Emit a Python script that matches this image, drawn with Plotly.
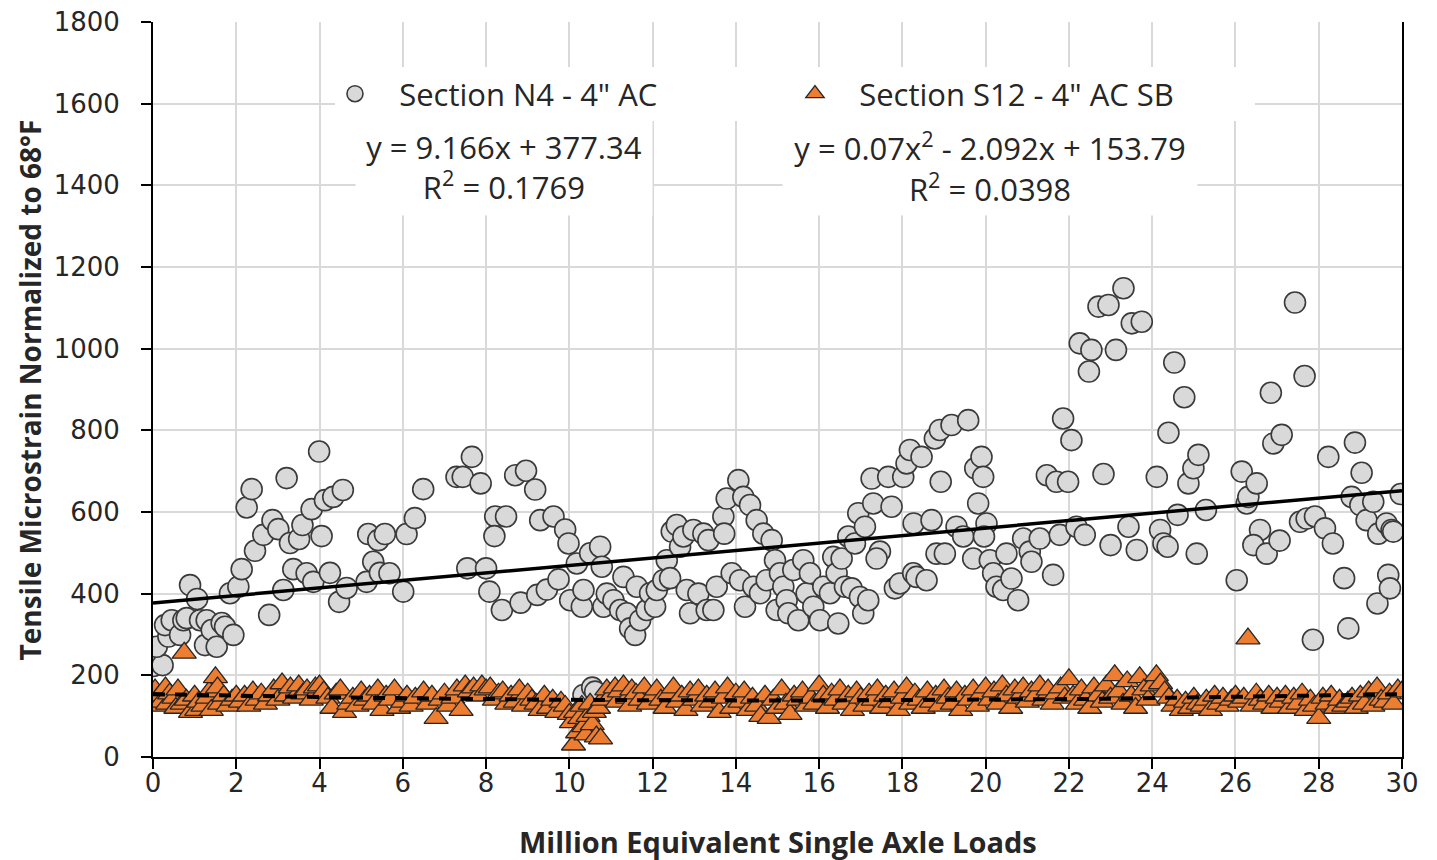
import numpy as np
import plotly.graph_objects as go

# ---------------- data ----------------
n4_x = [0.01, 0.23, 0.09, 0.37, 0.29, 0.45, 0.65, 0.73, 0.81, 0.89,
        1.06, 1.13, 1.29, 1.25, 1.41, 1.53, 1.65, 1.73, 1.93, 1.85,
        2.05, 2.13, 2.25, 2.37, 2.45, 2.65, 2.79, 2.87, 3.01, 3.21,
        3.13, 3.29, 3.37, 3.51, 3.59, 3.69, 3.81, 3.85, 3.99, 4.05,
        4.13, 4.25, 4.33, 4.47, 4.56, 4.65, 5.13, 5.17, 5.29, 5.41,
        5.45, 5.57, 5.68, 6.01, 6.09, 6.29, 6.49, 7.29,
        7.66, 7.44, 7.87, 7.55, 8.0, 8.08, 8.22, 8.48, 8.2, 8.38,
        8.70, 8.96, 9.18, 8.83, 9.23, 9.30, 9.62, 9.46, 9.74, 9.90,
        9.98, 10.02, 10.18, 10.30, 10.34, 10.50, 10.74, 10.78, 10.82, 10.9,
        11.06, 11.22, 11.30, 11.38, 11.46, 11.58, 11.70, 11.62, 11.86, 11.94,
        12.06, 12.10, 12.26, 12.34, 12.42, 12.46, 12.58, 12.66, 12.74, 12.82,
        12.9, 12.98, 13.10, 13.22, 13.3, 13.34, 13.46, 13.54, 13.70, 13.78,
        13.72, 13.90, 14.06, 14.1, 14.18, 14.22, 14.34, 14.42, 14.50, 14.58,
        14.66, 14.74, 14.86, 14.94, 14.98,
        15.06, 15.14, 15.22, 15.26, 15.38, 15.5, 15.62, 15.70, 15.78, 15.86,
        16.02, 16.10, 16.26, 16.34, 16.42, 16.46, 16.54, 16.62, 16.70, 16.78,
        16.86, 16.94, 16.98, 17.06, 17.10, 17.18, 17.30, 17.26, 17.46, 17.38,
        17.66, 17.74, 17.82, 17.94, 18.02, 18.1, 18.18, 18.26, 18.34, 18.27,
        18.46, 18.58, 18.70, 18.78, 18.90, 18.92, 18.82, 19.02, 19.18, 19.30,
        19.46, 19.58, 19.70, 19.75, 19.90, 19.94, 19.82, 20.02, 19.96, 20.1,
        20.18, 20.26, 20.42, 20.50, 20.62, 20.78, 20.9, 21.06, 21.10, 21.30,
        21.47, 21.62, 21.70, 21.78, 21.86, 21.98, 22.06, 22.18, 22.38, 22.26,
        22.54, 22.48,
        23.31, 22.71, 22.95, 23.51, 23.75, 23.13, 22.83, 23.0, 23.43, 23.63,
        24.11, 24.19, 24.27, 24.37, 24.53, 24.39, 24.61, 24.77, 24.87, 24.99,
        25.11, 25.07, 25.29, 26.03, 26.15, 26.27, 26.31, 26.51, 26.59, 26.43,
        26.75, 27.06, 26.85, 26.91, 27.11, 27.43, 27.66, 27.55, 27.71, 27.91,
        27.86, 28.15, 28.23, 28.34, 28.61, 28.71, 28.79, 28.87, 29.03, 29.0,
        29.15, 29.31, 29.43, 29.63, 29.75, 29.79, 29.41, 29.67, 29.71, 29.97,
        10.34, 10.55, 10.62]
n4_y = [223, 225, 270, 295, 323, 335, 299, 335, 340, 421,
        387, 335, 335, 274, 311, 270, 328, 319, 299, 401,
        417, 460, 611, 656, 505, 544, 348, 580, 558, 683,
        409, 524, 460, 534, 568, 450, 607, 429, 748, 541,
        629, 451, 637, 380, 654, 414, 429, 546, 478, 531,
        451, 546, 450, 405, 546, 585, 656, 686,
        735, 686, 670, 462, 462, 405, 589, 589, 541, 360,
        690, 701, 655, 378, 397, 580, 589, 410, 435, 557,
        523, 384, 474, 368, 409, 499, 515, 466, 368, 400,
        384, 360, 441, 352, 315, 299, 335, 417, 360, 401,
        368, 409, 433, 482, 438, 552, 568, 515, 540, 409,
        352, 556, 400, 547, 360, 531, 360, 417, 589, 633,
        547, 450, 678, 433, 637, 368, 617, 417, 580, 401,
        547, 433, 531, 482, 360,
        450, 417, 384, 352, 458, 335, 482, 401, 450, 368,
        335, 417, 401, 490, 450, 327, 486, 417, 540, 413,
        523, 597, 392, 352, 564, 384, 621, 682, 503, 486,
        686, 613, 413, 425, 686, 719, 752, 450, 441, 572,
        735, 433, 580, 780, 801, 674, 498, 498, 813, 564,
        540, 825, 486, 707, 735, 686, 621, 572, 540, 482,
        450, 417, 409, 498, 437, 384, 535, 503, 478, 535,
        690, 446, 674, 544, 829, 674, 776, 564, 544, 1013,
        997, 944,
        1148, 1103, 1107, 1062, 1066, 997, 693, 519, 564, 507,
        686, 556, 523, 515, 966, 794, 593, 881, 670, 707,
        740, 498, 605, 433, 699, 621, 637, 670, 556, 519,
        498, 530, 892, 768, 789, 1113, 933, 576, 584, 589,
        287, 560, 735, 523, 438, 315, 637, 770, 696, 617,
        580, 625, 547, 572, 556, 552, 376, 446, 413, 644,
        152, 170, 160]

s12_x = [0.0, 0.05, 0.1, 0.15, 0.2, 0.3, 0.35, 0.4, 0.5, 0.55, 0.6, 0.7, 0.75, 0.8, 0.9,
         1.0, 1.05, 1.1, 1.2, 1.3, 1.35, 1.4, 1.5, 1.55, 1.6, 1.7, 1.8, 1.9, 2.0,
         2.1, 2.2, 2.3, 2.4, 2.5, 2.6, 2.7, 2.8, 2.9, 3.0, 3.1, 3.2, 3.3, 3.4, 3.5,
         3.6, 3.7, 3.8, 3.9, 4.0, 4.1,
         4.2, 4.3, 4.4, 4.5, 4.6, 4.7, 4.8, 4.9, 5.0, 5.1, 5.2, 5.3, 5.4, 5.5, 5.6,
         5.7, 5.8, 5.9, 6.0,
         6.1, 6.2, 6.3, 6.5, 6.6, 6.7, 6.8, 6.9, 7.0, 7.1, 7.2, 7.3, 7.4, 7.5, 7.6,
         7.7, 7.8, 7.9, 8.0, 8.1,
         8.2, 8.3, 8.4, 8.5, 8.6, 8.7, 8.8, 8.9, 9.0, 9.1, 9.2, 9.3, 9.4, 9.5, 9.6,
         9.7, 9.8, 9.9, 10.0,
         10.05, 10.1, 10.15, 10.2, 10.25, 10.3, 10.35, 10.4, 10.45, 10.5, 10.55, 10.6,
         10.65, 10.7, 10.75, 10.8,
         10.9, 11.0, 11.1, 11.15, 11.2, 11.3, 11.4, 11.45, 11.5, 11.6, 11.7, 11.8, 11.9,
         12.0, 12.1, 12.2, 12.3, 12.4, 12.5, 12.6, 12.7, 12.8, 12.9, 13.0, 13.1, 13.2,
         13.3, 13.4, 13.5, 13.6, 13.7, 13.8, 13.9, 14.0,
         14.1, 14.2, 14.3, 14.4, 14.5, 14.6, 14.7, 14.8, 14.9, 15.0, 15.1, 15.2, 15.3,
         15.4, 15.5, 15.6, 15.7, 15.8, 15.9, 16.0, 16.1, 16.2, 16.3, 16.4, 16.5, 16.6,
         16.7, 16.8, 16.9, 17.0,
         17.1, 17.2, 17.3, 17.4, 17.5, 17.6, 17.7, 17.8, 17.9, 18.0, 18.1, 18.2, 18.3,
         18.4, 18.5, 18.6, 18.7, 18.8, 18.9, 19.0, 19.1, 19.2, 19.3, 19.4, 19.5, 19.6,
         19.7, 19.8, 19.9, 20.0,
         20.1, 20.2, 20.3, 20.4, 20.5, 20.6, 20.7, 20.8, 20.9, 21.0, 21.1, 21.2, 21.3,
         21.4, 21.5, 21.6, 21.7, 21.8, 21.9, 22.0,
         22.1, 22.2, 22.3, 22.4, 22.5, 22.6, 22.7, 22.8, 22.9, 23.0, 23.1, 23.2, 23.3,
         23.4, 23.5, 23.6, 23.7, 23.8, 23.9, 24.0, 24.1, 24.2, 24.3, 24.4,
         24.5, 24.6, 24.7, 24.8, 24.9, 25.0, 25.1, 25.2, 25.3, 25.4, 25.5, 25.6, 25.7,
         25.8, 25.9, 26.0, 26.1, 26.2, 26.3, 26.4, 26.5, 26.6, 26.7, 26.8, 26.9, 27.0,
         27.1, 27.2, 27.3, 27.4, 27.5, 27.6, 27.7, 27.8, 27.9, 28.0, 28.1, 28.2, 28.3,
         28.4, 28.5, 28.6, 28.7, 28.8, 28.9, 29.0, 29.1, 29.2, 29.3, 29.4, 29.5, 29.6,
         29.7, 29.8, 29.9, 30.0]
s12_y = [140, 165, 125, 150, 135, 170, 130, 155, 145, 120, 165, 130, 255, 140, 110,
         150, 115, 135, 125, 145, 160, 115, 195, 170, 130, 150, 125, 140, 150,
         135, 150, 125, 160, 140, 155, 130, 150, 165, 140, 180, 150, 170, 145, 175,
         155, 165, 140, 170, 175, 160,
         145, 120, 155, 165, 110, 130, 145, 125, 160, 140, 150, 130, 165, 115, 150,
         140, 165, 120, 135,
         150, 125, 145, 160, 130, 150, 95, 140, 155, 125, 145, 165, 115, 175, 160,
         170, 150, 175, 165, 170,
         140, 155, 160, 130, 150, 135, 165, 125, 155, 140, 130, 115, 150, 120, 140,
         110, 135, 125, 105,
         85, 30, 110, 60, 95, 125, 75, 55, 100, 130, 80, 110,
         50, 120, 45, 140,
         165, 150, 170, 135, 160, 175, 145, 125, 165, 155, 140, 170, 130,
         150, 165, 140, 120, 155, 170, 135, 150, 115, 160, 140, 165, 125,
         150, 135, 160, 110, 145, 170, 120, 155,
         135, 160, 115, 145, 125, 100, 150, 95, 140, 120, 165, 130, 105,
         150, 140, 160, 125, 145, 130, 175, 150, 120, 155, 140, 165, 130,
         150, 115, 160, 145,
         125, 155, 140, 165, 120, 150, 135, 160, 115, 145, 170, 130, 155,
         140, 120, 160, 135, 150, 125, 165, 145, 130, 160, 115, 150, 140,
         165, 125, 155, 170,
         140, 160, 130, 175, 150, 120, 165, 145, 170, 135, 160, 150, 175,
         140, 165, 130, 155, 170, 145, 190,
         150, 130, 165, 140, 120, 170, 150, 135, 175, 145, 200, 160, 130,
         185, 150, 120, 195, 165, 140, 175, 200, 180, 160, 145,
         125, 140, 115, 135, 120, 145, 130, 125, 140, 115, 150, 130, 145,
         125, 140, 150, 135, 145, 290, 125, 155, 140, 130, 150, 120, 145,
         135, 150, 120, 145, 130, 155, 115, 140, 125, 95, 145, 130, 150,
         120, 140, 125, 135, 145, 120, 150, 130, 160, 125, 170, 140, 135,
         155, 130, 165, 160]

# trendline coefficients (as printed on the chart)
n4_trend = (9.166, 377.34)            # y = a*x + b
s12_trend = (0.07, -2.092, 153.79)    # y = a*x^2 + b*x + c

x_ticks = list(range(0, 31, 2))
y_ticks = list(range(0, 1801, 200))

# ---------------- figure ----------------
TXT = "#262626"
NB = "\u00a0"
fig = go.Figure()

fig.add_trace(go.Scatter(
    x=n4_x, y=n4_y, mode="markers", name=NB * 3 + 'Section N4 - 4" AC',
    marker=dict(symbol="circle", size=21, color="#d9d9d9",
                line=dict(color="#3a3a3a", width=1.6)),
))
fig.add_trace(go.Scatter(
    x=s12_x, y=s12_y, mode="markers", name=NB * 3 + 'Section S12 - 4" AC SB',
    marker=dict(symbol="triangle-up", size=21, color="#ed7d31",
                line=dict(color="#262626", width=1.3)),
))

tx = np.linspace(0, 30, 301)
fig.add_trace(go.Scatter(
    x=tx, y=n4_trend[0] * tx + n4_trend[1], mode="lines", showlegend=False,
    line=dict(color="black", width=3.5), hoverinfo="skip",
))
fig.add_trace(go.Scatter(
    x=tx, y=s12_trend[0] * tx**2 + s12_trend[1] * tx + s12_trend[2], mode="lines",
    showlegend=False, line=dict(color="black", width=4, dash="12px,10px"),
    hoverinfo="skip",
))

# page body has an 8px margin, so the figure is offset by 8px
fig.update_layout(
    width=1429, height=852,
    margin=dict(l=145, r=35, t=14, b=103, autoexpand=False),
    paper_bgcolor="white", plot_bgcolor="white",
    font=dict(family="DejaVu Sans", color=TXT),
    legend=dict(
        orientation="h", x=0.1457, xanchor="left", y=0.902, yanchor="middle",
        bgcolor="white", font=dict(family="Open Sans", size=31, color=TXT),
        entrywidth=415, entrywidthmode="pixels", itemsizing="trace",
        tracegroupgap=0,
    ),
    xaxis=dict(
        range=[0, 30], tickvals=x_ticks, ticktext=[str(v) for v in x_ticks],
        showgrid=True, gridcolor="#d9d9d9", gridwidth=1.5,
        showline=True, linecolor="black", linewidth=2,
        ticks="outside", ticklen=10, tickwidth=2, tickcolor="black",
        tickfont=dict(family="DejaVu Sans", size=26, color=TXT),
        ticklabelstandoff=-8, ticklabeloverflow="allow", zeroline=False,
        automargin=False,
    ),
    yaxis=dict(
        range=[0, 1800], tickvals=y_ticks, ticktext=[str(v) for v in y_ticks],
        showgrid=True, gridcolor="#d9d9d9", gridwidth=1.5,
        showline=True, linecolor="black", linewidth=2, mirror=True,
        ticks="outside", ticklen=10, tickwidth=2, tickcolor="black",
        tickfont=dict(family="DejaVu Sans", size=26, color=TXT),
        ticklabelstandoff=16, ticklabeloverflow="allow", zeroline=False,
        automargin=False,
    ),
)

fig.add_annotation(
    text="Million Equivalent Single Axle Loads", xref="paper", yref="paper",
    x=0.5, y=-0.1156, xanchor="center", yanchor="middle", showarrow=False,
    font=dict(family="Open Sans", size=29, color=TXT, weight="bold"),
)
fig.add_annotation(
    text="Tensile Microstrain Normalized to 68°F", xref="paper", yref="paper",
    x=-0.0985, y=0.5, xanchor="center", yanchor="middle", showarrow=False,
    textangle=-90,
    font=dict(family="Open Sans", size=28, color=TXT, weight="bold"),
)
fig.add_annotation(
    text="y = 9.166x + 377.34<br>R<sup>2</sup> = 0.1769", xref="paper", yref="paper",
    x=(504 - 153) / 1249, y=(757 - 167) / 735, xanchor="center", yanchor="middle",
    showarrow=False, bgcolor="white", width=294, height=94,
    font=dict(family="Open Sans", size=31, color=TXT),
)
fig.add_annotation(
    text="y = 0.07x<sup>2</sup> - 2.092x + 153.79<br>R<sup>2</sup> = 0.0398",
    xref="paper", yref="paper",
    x=(990 - 153) / 1249, y=(757 - 167) / 735, xanchor="center", yanchor="middle",
    showarrow=False, bgcolor="white", width=412, height=94,
    font=dict(family="Open Sans", size=31, color=TXT),
)

fig.write_html("out.html")
